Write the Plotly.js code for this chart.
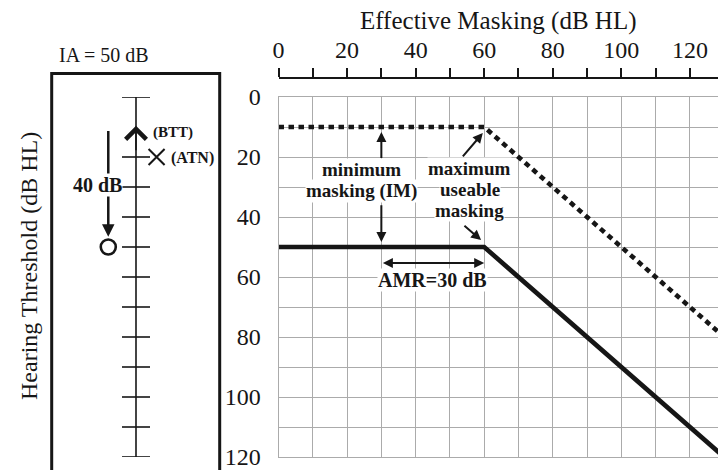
<!DOCTYPE html>
<html>
<head>
<meta charset="utf-8">
<script src="https://cdn.plot.ly/plotly-3.0.1.min.js"></script>
<style>
  html, body { margin: 0; padding: 0; background: #fff; }
  #chart { width: 718px; height: 470px; }
</style>
</head>
<body>
<div id="chart"></div>
<script>
// ---- Masking function data (dB HL) ----
const maskingX = [0, 60, 130];          // effective masking level
const maskerCurveY = [10, 10, 80];      // dashed: masker level line (plateau, then overmasking slope)
const thresholdY = [50, 50, 120];       // solid: masked threshold of the test ear

// Plateau landmarks
const minMaskingX = 30;                 // minimum masking (IM)
const maxMaskingX = 60;                 // maximum useable masking

// ---- Left panel: audiometric scale ----
const scaleEnds = [0, 120];
const scaleTicks = [0, 20, 30, 40, 50, 60, 70, 80, 90, 100, 110, 120];
const bttLevel = 10;                    // bone-conduction threshold of test ear
const atnLevel = 20;                    // air threshold, non-test ear
const maskedLevel = 50;                 // air threshold, test ear
const iaValue = 50;

// ---- Tick labels ----
const xTickVals = [0, 10, 20, 30, 40, 50, 60, 70, 80, 90, 100, 110, 120];
const xTickText = ['0', '', '20', '', '40', '', '60', '', '80', '', '100', '', '120'];
const yTickVals = [0, 10, 20, 30, 40, 50, 60, 70, 80, 90, 100, 110, 120];
const yTickText = ['0', '', '20', '', '40', '', '60', '', '80', '', '100', '', '120'];

// ---- Page geometry helpers (pixels -> paper) ----
const W = 718, H = 470;
const px = v => v / W;
const py = v => 1 - v / H;

const SERIF = '"Liberation Serif", "Times New Roman", serif';
const INK = '#161616';
const GRID = '#ababab';

const xRange = [0, 128.2];
const yRange = [120, 0];
const plotDomX = [px(278.5), 1];
const plotDomY = [py(457), py(97)];

// left-panel horizontal positions (panel spans -1..1, scale line at 0)
const arrowX = -0.33;
const atnX = 0.245;

const traces = [
  {
    x: maskingX, y: thresholdY, xaxis: 'x', yaxis: 'y',
    mode: 'lines', line: { color: INK, width: 4.6 },
    hoverinfo: 'skip', showlegend: false
  },
  {
    x: maskingX, y: maskerCurveY, xaxis: 'x2', yaxis: 'y',
    mode: 'lines', line: { color: INK, width: 4.6, dash: '5.5px,4.5px' },
    hoverinfo: 'skip', showlegend: false
  },
  // vertical scale line
  {
    x: [0, 0], y: scaleEnds, xaxis: 'x3', yaxis: 'y3',
    mode: 'lines', line: { color: INK, width: 1.6 },
    hoverinfo: 'skip', showlegend: false
  },
  // scale ticks
  {
    x: scaleTicks.map(() => 0), y: scaleTicks, xaxis: 'x3', yaxis: 'y3',
    mode: 'markers',
    marker: { symbol: 'line-ew', size: 20, color: INK, line: { color: INK, width: 1.6 } },
    hoverinfo: 'skip', showlegend: false
  },
  // non-test ear air threshold
  {
    x: [atnX], y: [atnLevel], xaxis: 'x3', yaxis: 'y3',
    mode: 'markers',
    marker: { symbol: 'x-thin-open', size: 16, color: INK, line: { color: INK, width: 2 } },
    hoverinfo: 'skip', showlegend: false
  },
  // test ear air threshold
  {
    x: [arrowX], y: [maskedLevel], xaxis: 'x3', yaxis: 'y3',
    mode: 'markers',
    marker: { symbol: 'circle-open', size: 15, color: INK, line: { color: INK, width: 2.6 } },
    hoverinfo: 'skip', showlegend: false
  }
];

const boldNote = (text, x, y, extra) => Object.assign({
  text: '<b>' + text + '</b>', x: x, y: y, xref: 'x', yref: 'y',
  xanchor: 'center', yanchor: 'middle',
  showarrow: false, font: { family: SERIF, size: 19, color: INK },
  bgcolor: '#ffffff', borderpad: 0
}, extra || {});

const dataArrow = (x, y, ax, ay, extra) => Object.assign({
  text: '', x: x, y: y, ax: ax, ay: ay, xref: 'x', yref: 'y', axref: 'x', ayref: 'y',
  showarrow: true, arrowhead: 2, arrowsize: 1, arrowwidth: 2, arrowcolor: INK, standoff: 0
}, extra || {});

const annotations = [
  // left panel captions
  { text: 'IA = ' + iaValue + ' dB', xref: 'paper', yref: 'paper', x: px(104), y: py(55),
    xanchor: 'center', yanchor: 'middle',
    showarrow: false, font: { family: SERIF, size: 20, color: INK } },
  { text: 'Hearing Threshold (dB HL)', xref: 'paper', yref: 'paper', x: px(29), y: py(266),
    xanchor: 'center', yanchor: 'middle',
    textangle: -90, showarrow: false, font: { family: SERIF, size: 24, color: INK } },

  // shift from bone threshold to masked air threshold
  dataArrow(arrowX, maskedLevel - 3.4, arrowX, bttLevel + 0.8,
    { xref: 'x3', yref: 'y3', axref: 'x3', ayref: 'y3', arrowwidth: 2.5 }),
  boldNote((maskedLevel - bttLevel) + ' dB', -0.464, 29.2,
    { xref: 'x3', yref: 'y3', font: { family: SERIF, size: 20, color: INK } }),

  // BTT arrowhead on the scale
  { text: '', x: 0, y: bttLevel - 0.4, xref: 'x3', yref: 'y3', ax: 0, ay: 26,
    showarrow: true, arrowhead: 4, arrowsize: 2.5, arrowwidth: 1.6, arrowcolor: INK, standoff: 0 },
  boldNote('(BTT)', 0.19, bttLevel + 1.7, { xref: 'x3', yref: 'y3', xanchor: 'left', bgcolor: 'rgba(0,0,0,0)',
    font: { family: SERIF, size: 15, color: INK } }),
  boldNote('(ATN)', 0.405, atnLevel + 0.3, { xref: 'x3', yref: 'y3', xanchor: 'left', bgcolor: 'rgba(0,0,0,0)',
    font: { family: SERIF, size: 16, color: INK } }),

  // right panel notes
  boldNote('minimum', 24.3, 24.33),
  boldNote('masking (IM)', 24.1, 31.33),
  boldNote('maximum', 55.8, 23.67),
  boldNote('useable', 55.8, 30.67),
  boldNote('masking', 55.8, 37.67),
  boldNote('AMR=' + (maxMaskingX - minMaskingX) + ' dB', 44.8, 61.0,
    { font: { family: SERIF, size: 20, color: INK } }),

  dataArrow(minMaskingX, 11.7, minMaskingX, 20.8),
  dataArrow(minMaskingX, 48.3, minMaskingX, 35.6),
  dataArrow(59.6, 12.0, 53.4, 20.3),
  dataArrow(59.1, 47.7, 53.8, 42.5),
  dataArrow(maxMaskingX, 55.3, minMaskingX, 55.3,
    { arrowside: 'end+start', startarrowhead: 2, startarrowsize: 1 })
];

const layout = {
  width: W, height: H, autosize: false,
  margin: { l: 0, r: 0, t: 0, b: 0, pad: 0 },
  paper_bgcolor: '#ffffff', plot_bgcolor: '#ffffff',
  showlegend: false,
  font: { family: SERIF, color: INK },
  xaxis: {
    domain: plotDomX, range: xRange, anchor: 'y',
    tickvals: xTickVals, showticklabels: false, ticks: '',
    showgrid: true, gridcolor: GRID, gridwidth: 1,
    showline: true, linecolor: GRID, linewidth: 1, mirror: true,
    zeroline: false, fixedrange: true
  },
  xaxis2: {
    overlaying: 'x', anchor: 'free', position: py(78), side: 'top',
    domain: plotDomX, range: xRange,
    tickvals: xTickVals, ticktext: xTickText,
    ticks: 'outside', ticklen: 9, tickwidth: 2, tickcolor: INK,
    showline: true, linewidth: 2, linecolor: INK,
    showgrid: false, zeroline: false, fixedrange: true,
    tickfont: { family: SERIF, size: 24, color: INK },
    title: { text: 'Effective Masking (dB HL)', font: { family: SERIF, size: 25, color: INK }, standoff: 0 }
  },
  yaxis: {
    domain: plotDomY, range: yRange, anchor: 'x',
    tickvals: yTickVals, ticktext: yTickText, ticks: '', ticklabelstandoff: 12,
    ticklabeloverflow: 'allow',
    tickfont: { family: SERIF, size: 24, color: INK },
    showgrid: true, gridcolor: GRID, gridwidth: 1,
    showline: true, linecolor: GRID, linewidth: 1,
    zeroline: false, fixedrange: true
  },
  xaxis3: {
    domain: [px(52), px(220)], range: [-1, 1], anchor: 'y3',
    visible: false, fixedrange: true
  },
  yaxis3: {
    domain: plotDomY, range: yRange, anchor: 'x3',
    visible: false, fixedrange: true
  },
  shapes: [
    { type: 'rect', xref: 'paper', yref: 'paper',
      x0: px(51.7), x1: px(219.7), y0: -0.1, y1: py(73.5),
      line: { color: INK, width: 3 }, fillcolor: 'rgba(0,0,0,0)' }
  ],
  annotations: annotations
};

Plotly.newPlot('chart', traces, layout, { displayModeBar: false, staticPlot: true });
</script>
</body>
</html>
